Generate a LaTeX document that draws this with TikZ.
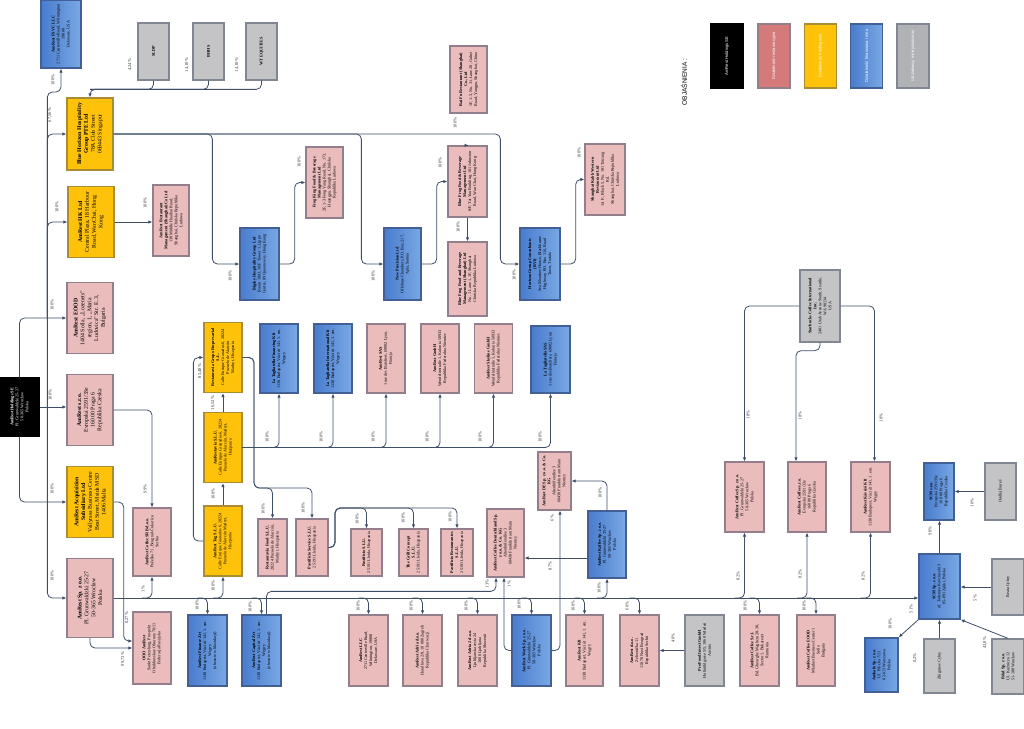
\documentclass[tikz,border=0pt]{standalone}
\usepackage{fontspec}
\setmainfont{Liberation Serif}
\setsansfont{Liberation Sans}
\usepackage{graphicx}
\usepackage{tikz}
\usetikzlibrary{arrows.meta,positioning,calc}
\definecolor{rozowy}{RGB}{234,188,188}
\definecolor{rozramka}{RGB}{146,126,140}
\definecolor{zolty}{RGB}{255,194,10}
\definecolor{zolramka}{RGB}{170,140,50}
\definecolor{niebA}{RGB}{72,124,206}
\definecolor{niebB}{RGB}{122,168,228}
\definecolor{nieramka}{RGB}{66,96,150}
\definecolor{szary}{RGB}{196,196,198}
\definecolor{szaramka}{RGB}{128,134,146}
\definecolor{legroz}{RGB}{212,122,122}
\definecolor{leggray}{RGB}{176,178,182}
\definecolor{linia}{RGB}{62,78,104}
\definecolor{procent}{RGB}{60,60,60}
\tikzset{
  box/.style={rectangle, line width=1.3pt, inner sep=0pt, minimum width=38pt, minimum height=70pt, font=\fontsize{4.2}{5}\selectfont},
  duzy/.style={font=\fontsize{5.8}{6.8}\selectfont},
  rest/.style={box, draw=rozramka, fill=rozowy},
  hold/.style={box, draw=zolramka, fill=zolty},
  fin/.style={box, draw=nieramka, left color=niebA, right color=niebB},
  udz/.style={box, draw=szaramka, fill=szary},
  glowna/.style={box, draw=black, fill=black, text=white},
  legbox/.style={box, minimum width=32pt, minimum height=64pt, text=white, font=\sffamily\fontsize{4.2}{5}\selectfont},
  lnk/.style={draw=linia, line width=0.8pt, rounded corners=5pt},
  arr/.style={lnk, -{Latex[length=4pt,width=3.5pt]}},
  pct/.style={rotate=90, font=\fontsize{4.6}{5}\selectfont, text=procent, inner sep=0pt}
}
% opis firmy: [szerokosc] {nazwa} {adres}
\newcommand{\opis}[3][60]{\rotatebox{90}{\parbox{#1pt}{\centering\textbf{#2}\\#3}}}
\newcommand{\opisk}[2][50]{\rotatebox{90}{\parbox{#1pt}{\centering #2}}}
\newcommand{\wdol}[1]{\draw[arr] ($(bus -| #1.north)+(-10,0)$) -| (#1.north);}
\newcommand{\wgore}[1]{\draw[arr] ($(bus -| #1.south)+(-10,0)$) -| (#1.south);}

\begin{document}
\begin{tikzpicture}[x=1pt, y=-1pt]
\useasboundingbox (0,0) rectangle (1024,728);

% --- lewa kolumna
\node[glowna, minimum width=39pt, minimum height=58pt] (holdings) at (19.5,407) {\opis[52]{AmRest Holdings SE}{Pl. Grunwaldzki 25-27\\50-365 Wrocław\\Polska}};
\node[fin, minimum width=40pt, minimum height=68pt] (fsvc) at (61,34) {\opis{AmRest FSVC LLC}{2711 Centerville Road, Wilmington\\19808\\Delaware, USA}};
\node[hold, duzy, minimum width=46pt, minimum height=72pt] (bhhg) at (90,134) {\opis[64]{Blue Horizon Hospitality Group PTE Ltd}{78A Club Street\\069443 Singapur}};
\node[hold, duzy, minimum width=46pt, minimum height=71pt] (amresthk) at (91,222) {\opis[64]{AmRest HK Ltd}{Central Plaza, 18 Harbour Road, WanChai, Hong Kong}};
\node[rest, duzy, minimum width=46pt, minimum height=71pt] (eood) at (90,318) {\opis[64]{AmRest EOOD}{1404 Sofia, „Lozenets” region, 1, „Maria Ludovica” Str. E. 3, Bulgaria}};
\node[rest, duzy, minimum width=46pt, minimum height=71pt] (amrestcz) at (90,410) {\opis[64]{AmRest s.r.o.}{Evropská 2591/33e\\160 00 Praga 6\\Republika Czeska}};
\node[hold, duzy, minimum width=46pt, minimum height=71pt] (acq) at (90,502) {\opis[64]{AmRest Acquisition Subsidiary Ltd}{Vallyrasa Business Centre Beat Street, Msida MSD 1406 Malta}};
\node[rest, duzy, minimum width=46pt, minimum height=79pt] (amrestpl) at (90,598) {\opis[70]{AmRest Sp. z o.o.}{Pl. Grunwaldzki 25-27\\50-365 Wrocław\\Polska}};

% --- udzialowcy Blue Horizon
\node[udz, minimum width=31pt, minimum height=57pt] (sldp) at (153.5,51.5) {\opisk{\textbf{SLDP}}};
\node[udz, minimum width=31pt, minimum height=57pt] (bhhs) at (208.5,51.5) {\opisk{\textbf{BHHS}}};
\node[udz, minimum width=31pt, minimum height=57pt] (wteq) at (261.5,51.5) {\opisk{\textbf{WT EQUITIES}}};

% --- Chiny
\node[rest, minimum width=36pt, minimum height=71pt] (amrshm) at (171,220.5) {\opis{AmRest Restaurant Management (Shanghai) Co Ltd}{138 Middle Huaihai Road, Shanghai, Chińska Republika Ludowa}};
\node[fin, minimum width=39pt, minimum height=72pt] (bigsky) at (259.5,264) {\opis{Bigsky Hospitality Group Ltd}{Room 1003, 10/F Tower 1, Lippo Centre, 89 Queensway, Hong Kong}};
\node[fin, minimum width=37pt, minimum height=72pt] (newprec) at (402.5,264) {\opis{New Precision Ltd}{Offshore Chambers, P.O. Box 217, Apia, Samoa}};
\node[fin, minimum width=40pt, minimum height=72pt] (horizon) at (540,264) {\opis{Horizon Group Consultants (BVI)}{Sea Meadow House, Blackburne Highway, P.O. Box 116, Road Town, Tortola}};
\node[rest, minimum width=37pt, minimum height=71pt] (frogking) at (324.5,182.5) {\opis{Frog King Food \& Beverage Management Ltd}{2F, 1-3 Feng Yang Road, No. 173, Huangpu, Shanghai, Chińska Republika Ludowa}};
\node[rest, minimum width=39pt, minimum height=71pt] (bluefrog) at (467.5,181.5) {\opis{Blue Frog Food \& Beverage Management Ltd}{8/F, Tai Yau Building, 181 Johnston Road, Wan Chai, Hong Kong}};
\node[rest, minimum width=37pt, minimum height=67pt] (baifu) at (468.5,79.5) {\opis[58]{Bai Fu Restaurant (Shanghai) Co., Ltd}{1F, 1-3, No. 31, Lane 28, Gubei Road, Yangpu, Shanghai, China}};
\node[rest, minimum width=39pt, minimum height=74pt] (bfsh) at (467.5,279) {\opis[64]{Blue Frog Food and Beverage Management (Shanghai) Ltd}{No. 1 Lane 1, 1F, Shanghai\\Chińska Republika Ludowa}};
\node[rest, minimum width=40pt, minimum height=71pt] (kabb) at (605,179.5) {\opis{Shanghai Kabb Western Restaurant Ltd}{1st F., Block 5, No. 181 Taicang Rd.\\Shanghai, Chińska Republika Ludowa}};

% --- Hiszpania
\node[hold] (restauravia) at (223,357.5) {\opis{Restauravia Grupo Empresarial S.L.}{Calle Enrique Granados 6, 28224 Pozuelo de Alarcón\\Madryt, Hiszpania}};
\node[hold] (amrestavia) at (223,447.5) {\opis{AmRestavia S.L.U.}{Calle Enrique Granados 6, 28224 Pozuelo de Alarcón, Madryt, Hiszpania}};
\node[hold] (amresttag) at (223,541) {\opis{AmRest Tag S.L.U.}{Calle Enrique Granados 6, 28224 Pozuelo de Alarcón Madryt, Hiszpania}};
\node[fin, minimum height=69pt] (tagfin) at (279,358.5) {\opis{La Tagliatella Financing Kft}{1138 Budapest, Váci út 141, 1. em.\\Węgry}};
\node[fin, minimum height=69pt] (tagint) at (333,358.5) {\opis{La Tagliatella International Kft}{1138 Budapest, Váci út 141, 1. em.\\Węgry}};
\node[rest, minimum height=69pt] (sas) at (386,358.5) {\opis{AmRest SAS}{1 rue des Bateliers, 69002 Lyon, Francja}};
\node[rest, minimum height=69pt] (gmbh) at (440,358.5) {\opis{AmRest GmbH}{Wendelinstraße 1, Kolonia 50933\\Republika Federalna Niemiec}};
\node[rest, minimum height=69pt] (skyline) at (493.5,358.5) {\opis{AmRest Skyline GmbH}{Wendelinstraße 1, Kolonia 50933\\Republika Federalna Niemiec}};
\node[fin, minimum width=39pt, minimum height=67pt] (tagsas) at (550.5,359.5) {\opis{La Tagliatella SAS}{1 rue des Bateliers, 69002 Lyon\\Francja}};
\node[rest, minimum width=29pt, minimum height=57pt] (restfood) at (272.5,547.5) {\opis[50]{Restauravia Food S.L.U.}{28224 Pozuelo de Alarcón, Madryt, Hiszpania}};
\node[rest, minimum width=32pt, minimum height=57pt] (pastserv) at (312,547.5) {\opis[50]{Pastificio Service S.L.U.}{25191 Lleida, Hiszpania}};
\node[rest, minimum width=31pt, minimum height=47pt] (pastsl) at (366.5,552.5) {\opis[42]{Pastificio S.L.U.}{25191 Lleida, Hiszpania}};
\node[rest, minimum width=29pt, minimum height=47pt] (grill) at (413.5,552.5) {\opis[42]{The Grill Concept S.L.U.}{25191 Lleida, Hiszpania}};
\node[rest, minimum width=32pt, minimum height=47pt] (pastrest) at (457,552.5) {\opis[42]{Pastificio Restaurantes S.L.U.}{25191 Lleida, Hiszpania}};

% --- nad szyna
\node[rest, minimum height=68pt] (srb) at (152,542) {\opis{AmRest Coffee SRB d.o.o.}{Požeška 71, Beograd-Čukarica\\Serbia}};
\node[rest, minimum height=72pt] (ooo) at (152,648) {\opis{OOO AmRest}{Sankt Petersburg, Prospekt Obukhovskoy Oborony 70/11\\Federacja Rosyjska}};
\node[rest, minimum width=37pt, minimum height=68pt] (deutsch) at (505.5,543) {\opis{AmRest Coffee Deutschland Sp. z o.o. \& Co. KG}{Altenhöferallee 3\\60438 Frankfurt am Main\\Niemcy}};
\node[rest, minimum width=33pt, minimum height=58pt] (amrestde) at (554.5,481) {\opis[52]{AmRest DE Sp. z o.o. \& Co. KG}{Altenhöferallee 3\\60438 Frankfurt am Main\\Niemcy}};
\node[fin, minimum height=67pt] (kaffee) at (607,544.5) {\opis{AmRest Kaffee Sp. z o.o.}{Pl. Grunwaldzki 25-27\\50-365 Wrocław\\Polska}};
\node[rest, minimum width=39pt] (coffeepl) at (744.5,497) {\opis{AmRest Coffee Sp. z o.o.}{Pl. Grunwaldzki 25-27\\50-365 Wrocław\\Polska}};
\node[rest] (coffeecz) at (807,497) {\opis{AmRest Coffee s.r.o.}{Evropská 2591/33e\\160 00 Praga 6\\Republika Czeska}};
\node[rest, minimum width=39pt] (kavezo) at (870.5,497) {\opis{AmRest Kávézó Kft}{1138 Budapest, Váci út 141, 1. em.\\Węgry}};
\node[udz, minimum width=40pt, minimum height=72pt] (starbucks) at (820,306) {\opis{Starbucks Coffee International Inc.}{2401 Utah Avenue South, Seattle, WA 98134\\USA}};

% --- pod szyna
\node[fin, minimum width=39pt, minimum height=71pt] (finance) at (207.5,650.5) {\opis{AmRest Finance Zrt}{1138 Budapest, Váci út 141, 1. em.\\Węgry\\(obecnie w likwidacji)}};
\node[fin, minimum width=39pt, minimum height=71pt] (capital) at (261.5,650.5) {\opis{AmRest Capital Zrt}{1138 Budapest, Váci út 141, 1. em.\\Węgry\\(obecnie w likwidacji)}};
\node[rest, minimum width=39pt, minimum height=71pt] (llc) at (368.5,650.5) {\opis{AmRest LLC}{2711 Centerville Road, Wilmington, 19808\\Delaware, USA}};
\node[rest, minimum width=39pt, minimum height=71pt] (adria) at (422.5,650.5) {\opis{AmRest Adria d.o.o.}{Hondlova 2/9, 10 000 Zagreb\\Republika Chorwacji}};
\node[rest, minimum width=39pt, minimum height=71pt] (adria2) at (477.5,650.5) {\opis{AmRest Adria 2 d.o.o.}{Ljubljanska cesta 24\\1000 Ljubljana\\Republika Słowenii}};
\node[fin, minimum width=39pt, minimum height=71pt] (work) at (531.5,650.5) {\opis{AmRest Work Sp. z o.o.}{Pl. Grunwaldzki 25-27\\50-365 Wrocław\\Polska}};
\node[rest, minimum width=37pt, minimum height=71pt] (kft) at (584.5,650.5) {\opis{AmRest Kft}{1138 Budapest, Váci út 141, 1. em.\\Węgry}};
\node[rest, minimum width=39pt, minimum height=71pt] (amrsrb) at (639.5,650.5) {\opis{AmRest d.o.o.}{Zeleznička 11\\11070 Novi Beograd\\Republika Serbii}};
\node[udz, minimum width=39pt, minimum height=71pt] (profood) at (704.5,650.5) {\opis{ProFood Invest GmbH}{Hofmühlgasse 5/5, 1060 Wiedeń\\Austria}};
\node[rest, minimum width=39pt, minimum height=71pt] (coffeero) at (759.5,650.5) {\opis{AmRest Coffee S.r.l.}{Bd. Gheorghe Magheru 28-30, Sector 1, Bukareszt\\Rumunia}};
\node[rest, minimum width=38pt, minimum height=71pt] (coffeebg) at (816,650.5) {\opis{AmRest Coffee EOOD}{Mladost Business Center 1\\Sofia\\Bułgaria}};

% --- SCM
\node[fin, minimum width=41pt, minimum height=65pt] (scmpl) at (939.5,586.5) {\opis[58]{SCM Sp. z o.o.}{ul. Tadeusza Kościuszki 3\\05-091 Ząbki, Polska}};
\node[fin, minimum width=30pt, minimum height=57pt] (scmcz) at (939,491.5) {\opis[50]{SCM s.r.o.}{Evropská 2591/33e\\160 00 Praga 6\\Republika Czeska}};
\node[udz, minimum width=31pt, minimum height=57pt] (ondrej) at (1000.5,491.5) {\opisk{Ondřej Bureš}};
\node[udz, minimum width=32pt, minimum height=56pt] (beata) at (1008,587) {\opisk{Beata Cylny}};
\node[udz, minimum width=31pt, minimum height=54pt] (zbig) at (939.5,666) {\opisk{Zbigniew Cylny}};
\node[udz, minimum width=32pt, minimum height=55pt] (rd) at (1008,666.5) {\opis[48]{R\&d Sp. z o.o.}{Ul. Kuźnicza 12\\51-180 Wrocław}};
\node[fin, minimum width=33pt, minimum height=54pt] (amk) at (881.5,665) {\opis[48]{Amkafo Sp. z o.o.}{Ul. Pilicka 7/11\\02-613 Warszawa\\Polska}};

% --- objasnienia
\node[rotate=90, font=\sffamily\fontsize{6.5}{7}\selectfont] (objasn) at (684,82) {OBJAŚNIENIA :};
\node[legbox, draw=black, fill=black] (leg1) at (727,56) {\opisk[56]{AmRest Holdings SE}};
\node[legbox, draw=rozramka, fill=legroz] (leg2) at (774,56) {\opisk[56]{Działalność restauracyjna}};
\node[legbox, draw=zolramka, fill=zolty] (leg3) at (820.5,56) {\opisk[56]{Działalność holdingowa}};
\node[legbox, draw=nieramka, left color=niebA, right color=niebB] (leg4) at (866.5,56) {\opisk[56]{Działalność finansowa i inna}};
\node[legbox, draw=szaramka, fill=leggray] (leg5) at (913,56) {\opisk[56]{Udziałowcy mniejszościowi}};

% --- polaczenia
\coordinate (pion) at ($(eood.west)+(-19,0)$);
\coordinate (bus) at (amrestpl.east);
\draw[arr] (holdings.north) |- (eood.west);
\draw[arr] (holdings.east) -- (holdings.east -| amrestcz.west);
\draw[arr] (holdings.south) |- (acq.west);
\draw[arr] (pion) |- (bhhg.west);
\draw[arr] (pion) |- (amresthk.west);
\draw[arr] (pion) |- (amrestpl.west);
\draw[arr] (pion) -- ++(0,-226) -| (fsvc.south);

\coordinate (bh-in) at ($(bhhg.north)+(0,-8)$);
\draw[lnk] (sldp.south) |- (bh-in);
\draw[lnk] (bhhs.south) |- (bh-in);
\draw[arr] (wteq.south) |- (bh-in) -- (bhhg.north);

\draw[arr] (amresthk.east) -- (amresthk.east -| amrshm.west);
\draw[arr] (bhhg.east) -| ($(bigsky.west)+(-27,0)$) -- (bigsky.west);
\draw[arr] (bhhg.east) -| ($(newprec.west)+(-22,0)$) -- (newprec.west);
\draw[arr] (bhhg.east) -| ($(horizon.west)+(-19,0)$) -- (horizon.west);
\draw[arr] (bigsky.east) -- ++(15,0) |- (frogking.west);
\draw[arr] (newprec.east) -- ++(15,0) |- (bluefrog.west);
\draw[arr] (horizon.east) -- ++(15,0) |- (kabb.west);
\draw[arr] (bluefrog.north) -- (bluefrog.north -| baifu.south);
\draw[arr] (bluefrog.south) -- (bfsh.north);

\draw[arr] (amrestavia.north) -- (restauravia.south);
\draw[arr] (amresttag.north) -- (amrestavia.south);
\draw[arr] (amresttag.west) -- ++(-10,0) |- (restauravia.west);
\foreach \cel in {tagfin,tagint,sas,gmbh,skyline,tagsas}{\draw[arr] (amrestavia.east) -| (\cel.south);}
\coordinate (rv) at (254,488);
\draw[arr] (restauravia.east) -| (rv) -| (restfood.north);
\draw[arr] (restauravia.east) -| (rv) -| (pastserv.north);
\coordinate (ps) at (335,508);
\foreach \cel in {pastsl,grill,pastrest}{\draw[arr] (pastserv.east) -| (ps) -| (\cel.north);}

% szyna AmRest Sp. z o.o.
\draw[arr] (bus) -- (bus -| scmpl.west);
\foreach \cel in {finance,capital,llc,adria,adria2,work,kft,amrsrb,coffeero,coffeebg}{\wdol{\cel}}
\foreach \cel in {srb,amresttag,kaffee,coffeepl,coffeecz,kavezo}{\wgore{\cel}}
\draw[arr] (amrestcz.east) -| (srb.north);
\draw[arr] (acq.east) -- ++(10,0) |- ($(ooo.west)+(0,-7)$);
\draw[arr] (amrestpl.south) |- (ooo.west);
\draw[arr] (profood.west) -- (amrsrb.east);

\draw[arr] ($(capital.north)+(5,0)$) -- ++(0,-23) -| ($(deutsch.south)+(-9.5,0)$);
\draw[arr] (work.west) -| ($(deutsch.south)+(-1.5,0)$);
\coordinate (kf) at ($(kaffee.west)+(0,13.5)$);
\draw[arr] (kf) -- (kf -| deutsch.east);
\draw[arr] (work.east) -| ($(amrestde.south)+(5.5,0)$);
\draw[arr] (kaffee.north) |- (amrestde.east);

\draw[arr] (starbucks.west) -| (coffeepl.north);
\draw[arr] (starbucks.south) -- ++(0,8) -| ($(coffeecz.north)+(-11,0)$);
\draw[arr] (starbucks.east) -| ($(kavezo.north)+(4,0)$);

\draw[arr] (scmpl.north) -- (scmpl.north |- scmcz.south);
\draw[arr] (ondrej.west) -- (ondrej.west -| scmcz.east);
\draw[arr] (beata.west) -- (beata.west -| scmpl.east);
\draw[arr] (zbig.north) -- (zbig.north |- scmpl.south);
\draw[arr] (rd.north) -- (scmpl.south east);
\draw[arr] (scmpl.south west) -- (amk.north east);

% udzialy
\foreach \x/\y/\t [count=\i] in {
  53/80/100\%, 50/115/{67,56\%}, 57/207/100\%, 52/305/100\%, 50/395/100\%, 52/489/100\%, 52/576/100\%,
  130/65/{4,24\%}, 187/65/{14,10\%}, 237/65/{14,10\%}, 145/203/100\%,
  230/276/100\%, 373/276/100\%, 514/275/100\%, 299/162/100\%, 440/163/100\%, 455/123/100\%, 458/227/100\%, 579/153/100\%,
  200/371/{83,48\%}, 213/403/{16,52\%}, 213/494/100\%, 213/586/100\%,
  267/437/100\%, 321/437/100\%, 373/437/100\%, 427/437/100\%, 480/437/100\%, 540/437/100\%,
  263/509/100\%, 303/508/100\%, 357/519/100\%, 403/518/100\%, 450/517/100\%,
  145/489/99\%, 143/589/1\%, 127/618/{0,27\%}, 123/659/{99,73\%},
  197/605/100\%, 250/607/100\%, 358/606/100\%, 411/606/100\%, 466/606/100\%, 519/604/100\%, 573/606/100\%,
  627/606/60\%, 673/638/40\%, 745/606/100\%, 804/606/100\%,
  487/584/13\%, 509/584/1\%, 550/566/87\%, 552/518/6\%, 600/493/100\%, 599/588/100\%,
  738/576/82\%, 800/574/82\%, 863/576/82\%, 748/415/18\%, 800/416/18\%, 881/418/18\%,
  911/609/51\%, 930/531/90\%, 972/503/10\%, 975/598/5\%, 915/658/{0,2\%}, 985/643/{43,8\%}, 890/624/100\%}
  {\node[pct] (p\i) at (\x,\y) {\t};}

\end{tikzpicture}
\end{document}
